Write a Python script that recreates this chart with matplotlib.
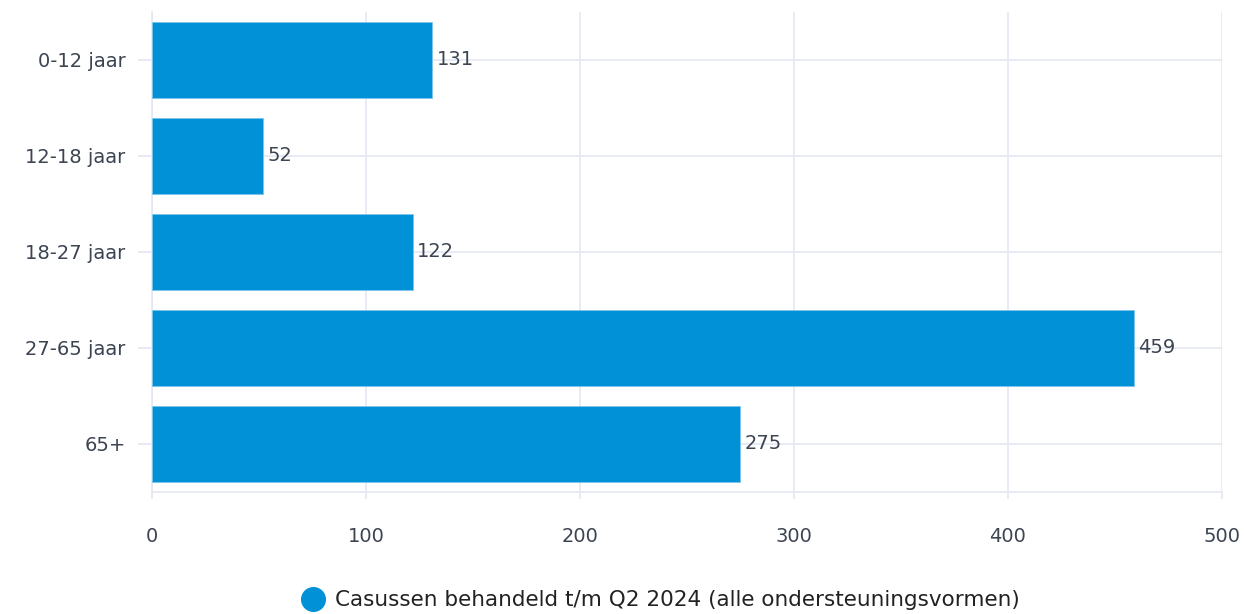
import matplotlib.pyplot as plt
from matplotlib.lines import Line2D

categories = ['0-12 jaar', '12-18 jaar', '18-27 jaar', '27-65 jaar', '65+']
values = [131, 52, 122, 459, 275]
series_name = 'Casussen behandeld t/m Q2 2024 (alle ondersteuningsvormen)'
xticks = [0, 100, 200, 300, 400, 500]

bar_color = '#0091d6'
grid_color = '#e4e7f2'
text_color = '#3c4452'

plt.rcParams['font.family'] = ['DejaVu Sans']

fig = plt.figure(figsize=(12.44, 6.14), dpi=100)
ax = fig.add_axes([0.1222, 0.1987, 0.8601, 0.7818])

ypos = list(range(len(categories)))
ax.barh(ypos, values, height=0.8, color=bar_color, edgecolor='#7cc4ea', linewidth=0.6, zorder=3)

for y, v in zip(ypos, values):
    ax.annotate(str(v), (v, y), xytext=(3, 0), textcoords='offset points',
                ha='left', va='center', fontsize=14, color=text_color, zorder=4)

ax.set_xlim(0, 500)
ax.set_ylim(len(categories) - 0.5, -0.5)
ax.set_xticks(xticks)
ax.set_yticks(ypos)
ax.set_yticklabels(categories)

ax.grid(True, color=grid_color, linewidth=1.2, zorder=0)
for s in ['top', 'right']:
    ax.spines[s].set_visible(False)
for s in ['left', 'bottom']:
    ax.spines[s].set_color(grid_color)
    ax.spines[s].set_linewidth(1.2)

ax.tick_params(axis='x', colors=text_color, labelsize=14, length=5, width=1.2, color=grid_color, pad=20)
ax.tick_params(axis='y', colors=text_color, labelsize=14, length=10, width=1.2, color=grid_color, pad=9)

handle = Line2D([], [], marker='o', linestyle='none', markersize=17, color=bar_color)
fig.legend([handle], [series_name], loc='center', bbox_to_anchor=(0.527, 0.022),
           frameon=False, fontsize=15.5, handletextpad=0.05, labelcolor='#222222',
           borderpad=0.1)

fig.savefig('out.png', dpi=100)
